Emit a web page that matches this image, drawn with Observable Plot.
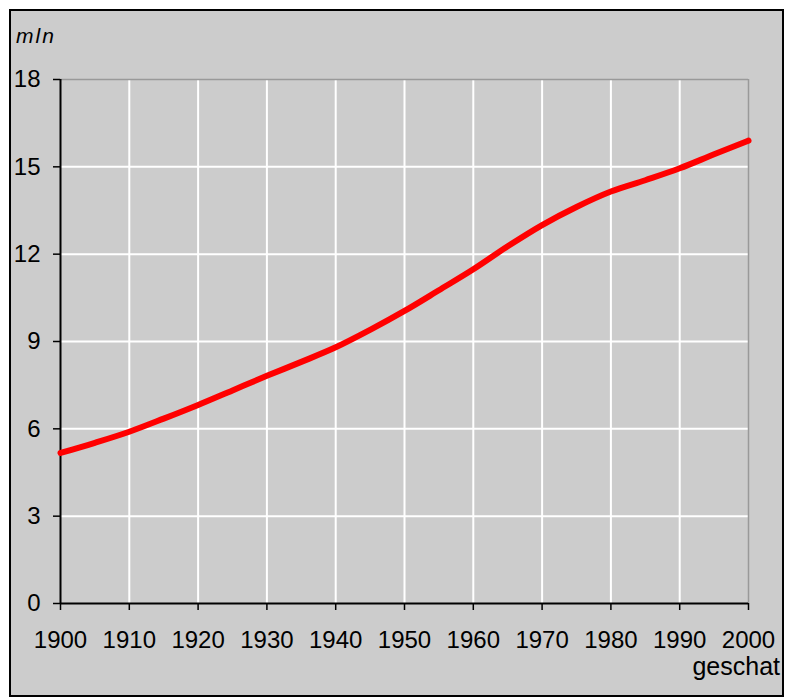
<!DOCTYPE html>
<html><head><meta charset="utf-8">
<script src="https://cdn.jsdelivr.net/npm/d3@7"></script>
<script src="https://cdn.jsdelivr.net/npm/@observablehq/plot@0.6"></script>
<style>
body{margin:0;background:#fff;font-family:"Liberation Sans",Arial,sans-serif;}
#box{position:absolute;left:9px;top:9px;width:771px;height:684px;border:2px solid #000;background:#cccccc;}
#mln{position:absolute;left:5px;top:14px;font-style:italic;font-size:21px;line-height:1;letter-spacing:2px;color:#000;}
#geschat{position:absolute;right:2px;top:643px;font-size:25px;line-height:1;color:#000;}
</style></head>
<body>
<div id="box"><div id="chart"></div><div id="mln">mln</div><div id="geschat">geschat</div></div>
<script>
const years = [1900,1905,1910,1915,1920,1925,1930,1935,1940,1945,1950,1955,1960,1965,1970,1975,1980,1985,1990,1995,2000];
const population = [5.17,5.52,5.90,6.35,6.82,7.32,7.82,8.30,8.80,9.40,10.05,10.76,11.48,12.27,13.00,13.62,14.15,14.54,14.95,15.43,15.90];
const xTicks = [1900,1910,1920,1930,1940,1950,1960,1970,1980,1990,2000];
const yTicks = [0,3,6,9,12,15,18];

const data = years.map((y,i)=>({year:y, value:population[i]}));

const chart = Plot.plot({
  width: 771, height: 684,
  marginLeft: 49, marginTop: 68, marginRight: 34, marginBottom: 92,
  style: {background:"transparent", fontFamily:"'Liberation Sans', Arial, sans-serif", fontSize:"24px", color:"#000"},
  x: {domain:[1900,2000], ticks: xTicks, tickFormat: d=>String(d)},
  y: {domain:[0,18], ticks: yTicks},
  marks: [
    Plot.ruleX(xTicks.slice(1,-1), {stroke:"#fff", strokeWidth:2, strokeOpacity:1}),
    Plot.ruleY(yTicks.slice(1,-1), {stroke:"#fff", strokeWidth:2, strokeOpacity:1}),
    Plot.ruleY([18], {stroke:"#999", strokeWidth:1.5}),
    Plot.ruleX([2000], {stroke:"#999", strokeWidth:1.5}),
    Plot.axisX({ticks: xTicks, tickSize:7, tickPadding:20, fontSize:24, tickFormat:d=>String(d), label:null, stroke:"#000", strokeWidth:1.5}),
    Plot.axisY({ticks: yTicks, tickSize:7, tickPadding:13, fontSize:24, label:null, stroke:"#000", strokeWidth:1.5}),
    Plot.ruleX([1900], {stroke:"#000", strokeWidth:2}),
    Plot.ruleY([0], {stroke:"#000", strokeWidth:2}),
    Plot.line(data, {x:"year", y:"value", stroke:"#ff0000", strokeWidth:6, curve:"monotone-x"})
  ]
});
document.getElementById("chart").appendChild(chart);
</script>
</body></html>
